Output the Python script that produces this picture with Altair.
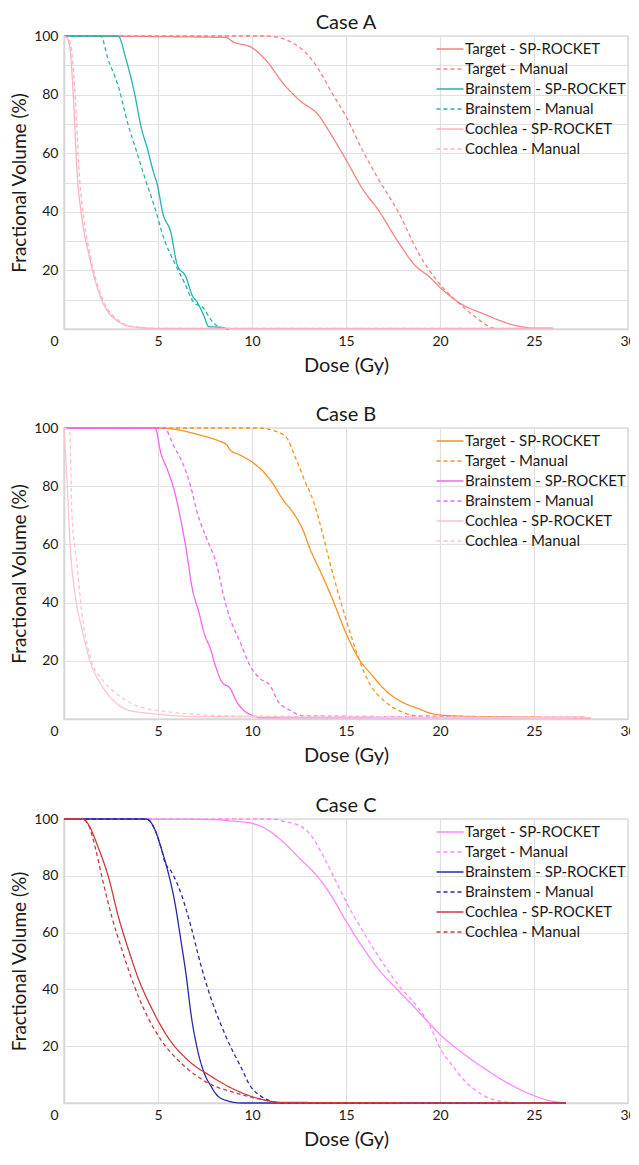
import altair as alt
import pandas as pd

series_names = ["Target - SP-ROCKET", "Target - Manual", "Brainstem - SP-ROCKET",
                "Brainstem - Manual", "Cochlea - SP-ROCKET", "Cochlea - Manual"]
x_ticks = [0, 5, 10, 15, 20, 25, 30]

# ---------------- Case A ----------------
a_target_sp_dose = [0, 8.6, 9.0, 10.0, 10.8, 11.65, 12.5, 13.6, 14.1, 15.0, 15.9, 16.7, 17.8, 18.7, 19.4, 20.1, 21.3, 22.35, 23.05, 24.1, 25.0, 26.0]
a_target_sp_vol = [100, 99.5, 98, 96, 91.3, 83.9, 78.2, 72.5, 67.5, 57.8, 47.6, 40.8, 29.5, 21.5, 18, 13.6, 7.9, 5.1, 3.2, 1.1, 0.3, 0.3]
a_target_man_dose = [0, 10.5, 11.1, 12.2, 13.05, 13.6, 14.26, 15.0, 15.86, 16.74, 17.8, 18.84, 20.07, 20.95, 21.8, 22.7, 23.05]
a_target_man_vol = [100, 100, 99.8, 97.5, 93, 88, 80.5, 72.6, 61.2, 51, 39.7, 26.1, 14.7, 9.1, 4.5, 0.6, 0]
a_brain_sp_dose = [0, 2.88, 3.3, 3.75, 4.1, 4.46, 4.72, 4.98, 5.25, 5.68, 6.04, 6.47, 6.83, 7.09, 7.44, 7.7, 8.3, 8.7]
a_brain_sp_vol = [100, 100, 92, 80.5, 69, 61, 54.4, 48.8, 39.7, 33, 21.5, 18, 11.3, 9.1, 4.5, 0.8, 0.6, 0]
a_brain_man_dose = [0, 1.95, 2.35, 2.88, 3.4, 3.84, 4.28, 4.8, 5.33, 5.86, 6.39, 6.91, 7.44, 7.79, 8.3, 8.75]
a_brain_man_vol = [100, 100, 92, 83, 70, 61, 52, 42, 30.6, 22.8, 16, 9, 7, 3.4, 0.5, 0]
a_coch_sp_dose = [0, 0.2, 0.33, 0.51, 0.68, 0.95, 1.3, 2.0, 2.7, 3.7, 5.0, 26.0]
a_coch_sp_vol = [100, 99, 95, 78, 55, 38, 26, 10, 3.4, 0.7, 0.2, 0.2]
a_coch_man_dose = [0, 0.25, 0.4, 0.61, 0.79, 1.05, 1.4, 2.0, 2.7, 3.7, 5.0, 26.0]
a_coch_man_vol = [100, 99, 95, 78, 55, 38, 25, 11, 4, 0.8, 0.2, 0.2]
colors_a = ["#F98080", "#F98080", "#22B5AD", "#22B5AD", "#FFB3C0", "#FFB3C0"]

# ---------------- Case B ----------------
b_target_sp_dose = [0, 5.0, 6.21, 7.26, 8.14, 8.67, 8.84, 9.37, 9.98, 10.6, 11.1, 11.65, 12.2, 12.7, 13.1, 13.58, 14.28, 14.98, 15.68, 16.39, 17.09, 17.96, 18.84, 19.54, 20.6, 22.35, 28.0]
b_target_sp_vol = [100, 100, 99.2, 97.5, 95.8, 94.1, 92.4, 90.7, 88.4, 85, 81, 75.3, 70.8, 65.1, 58.2, 51.5, 41.2, 29.8, 20.7, 15, 9.9, 5.9, 3.6, 1.9, 1.1, 0.8, 0.5]
b_target_man_dose = [0, 10.4, 11.1, 11.8, 12.3, 12.8, 13.3, 13.58, 14.1, 14.63, 15.16, 15.68, 16.21, 17.09, 17.96, 18.84, 28.0]
b_target_man_vol = [100, 100, 99.2, 97, 90, 82, 74.2, 68, 54.8, 42.3, 30.9, 20.7, 12.7, 5.9, 2.5, 1.1, 0.5]
b_brain_sp_dose = [0, 4.84, 5.16, 5.51, 5.86, 6.21, 6.47, 6.83, 7.18, 7.44, 7.79, 8.05, 8.4, 8.84, 9.19, 9.54, 10.07, 10.4, 28.0]
b_brain_sp_vol = [100, 100, 91.2, 85.5, 78.7, 68.5, 59.4, 44.6, 36.6, 29.8, 24.1, 18.4, 12.7, 10.5, 5.9, 3.1, 1.1, 0.5, 0.5]
b_brain_man_dose = [0, 5.33, 5.86, 6.39, 6.74, 7.09, 7.61, 8.14, 8.49, 8.84, 9.37, 9.89, 10.42, 10.95, 11.4, 12.0, 12.7, 28.0]
b_brain_man_vol = [100, 100, 93.5, 86.7, 79.9, 70.8, 61.7, 52.6, 42.3, 34.4, 26.4, 18.4, 13.9, 11.6, 5.9, 3.1, 1.1, 0.5]
b_coch_sp_dose = [0, 0.16, 0.33, 0.6, 0.95, 1.4, 2.0, 2.7, 3.4, 4.6, 7.3, 28.0]
b_coch_sp_vol = [100, 82, 59.4, 42.3, 31, 19.6, 11.6, 5.9, 3.1, 1.9, 0.8, 0.5]
b_coch_man_dose = [0, 0.3, 0.42, 0.68, 0.95, 1.47, 2.0, 2.88, 3.77, 5.5, 9.0, 28.0]
b_coch_man_vol = [100, 99, 70.8, 53.7, 36.6, 19.6, 13.9, 8.2, 4.8, 2.5, 1.1, 0.5]
colors_b = ["#F7931E", "#F7931E", "#F266F2", "#F266F2", "#FFC4CE", "#FFC4CE"]

# ---------------- Case C ----------------
c_target_sp_dose = [0, 8.0, 9.04, 9.92, 10.8, 11.68, 12.55, 13.58, 14.28, 14.98, 15.86, 16.74, 17.79, 18.84, 19.37, 20.07, 21.12, 22.35, 23.58, 24.8, 25.86, 26.7]
c_target_sp_vol = [100, 99.8, 99.2, 98.6, 96.3, 91.8, 86, 79, 72.3, 64.3, 55.1, 47, 39.5, 32.3, 28.5, 23.7, 18, 12.2, 7.1, 3.1, 0.8, 0]
c_target_man_dose = [0, 11.0, 11.68, 12.55, 13.25, 13.58, 14.28, 14.98, 15.86, 16.74, 17.79, 18.84, 19.37, 20.07, 20.63, 21.33, 22.2, 23.05, 24.1]
c_target_man_vol = [100, 100, 99.2, 97.6, 93.2, 89.5, 80.6, 71.2, 60.9, 51.5, 41.5, 33.5, 28.3, 18.5, 13.4, 7.7, 3.1, 0.8, 0]
c_brain_sp_dose = [0, 4.39, 4.83, 5.18, 5.53, 5.88, 6.24, 6.5, 6.76, 7.11, 7.46, 7.82, 8.17, 8.69, 9.4, 26.7]
c_brain_sp_vol = [100, 100, 96.3, 89.5, 81.5, 71.2, 56.3, 44.9, 31.1, 18.5, 10.5, 5.9, 2.5, 0.8, 0, 0]
c_brain_man_dose = [0, 4.39, 4.83, 5.18, 5.36, 5.71, 6.24, 6.76, 7.29, 7.82, 8.34, 8.87, 9.4, 9.92, 10.45, 10.97, 11.5, 24.0]
c_brain_man_vol = [100, 100, 96.3, 89.5, 84.9, 81.5, 73.5, 62, 48.3, 36.8, 27.7, 19.7, 12.8, 5.9, 2.5, 0.8, 0, 0]
c_coch_sp_dose = [0, 1.0, 1.24, 1.85, 2.38, 2.9, 3.43, 3.96, 4.66, 5.53, 6.59, 7.82, 9.05, 10.45, 11.7, 26.7]
c_coch_sp_vol = [100, 100, 98.6, 89.5, 79.2, 65.4, 54, 43.7, 33.4, 23.1, 15.1, 9.4, 4.8, 1.4, 0.2, 0]
c_coch_man_dose = [0, 1.0, 1.3, 1.68, 2.03, 2.55, 3.08, 3.6, 4.3, 5.18, 6.24, 7.64, 9.05, 10.8, 11.5, 26.0]
c_coch_man_vol = [100, 100, 98, 89.5, 79.2, 65.4, 54, 43.7, 32.3, 22, 14, 7.1, 3.7, 0.8, 0, 0]
colors_c = ["#FF88FF", "#FF88FF", "#2A2AA8", "#2A2AA8", "#CC3A40", "#CC3A40"]

dashes = [[1, 0], [4, 3], [1, 0], [4, 3], [1, 0], [4, 3]]

FONT = "Lato"


def build_df(curves):
    rows = []
    for name, (xs, ys) in zip(series_names, curves):
        for i, (x, y) in enumerate(zip(xs, ys)):
            rows.append({"dose": x, "volume": y, "series": name, "order": i})
    return pd.DataFrame(rows)


def panel(title, curves, colors, height, ystep, shift_zero):
    df = build_df(curves)
    legend = alt.Legend(title=None, orient="top-right", offset=2, padding=0,
                        symbolType="M-1.35,0H1.35", symbolSize=400, symbolStrokeWidth=1.5,
                        labelFontSize=15, labelLimit=0, labelFont=FONT, labelColor="#1a1a1a",
                        labelOffset=4, rowPadding=1)
    x_axis_kw = dict(values=x_ticks, title="Dose (Gy)", labelFlush=False)
    if shift_zero:
        x_axis_kw["labelOffset"] = {"condition": {"test": "datum.value == 0", "value": -10}, "value": 0}
    return alt.Chart(df, title=alt.Title(title, fontSize=20, font=FONT, fontWeight="normal",
                                          color="#1a1a1a", anchor="middle", offset=-4)).mark_line(
        interpolate="monotone", strokeWidth=1.3
    ).encode(
        x=alt.X("dose:Q", scale=alt.Scale(domain=[0, 30], nice=False), axis=alt.Axis(**x_axis_kw)),
        y=alt.Y("volume:Q", scale=alt.Scale(domain=[0, 100], nice=False),
                axis=alt.Axis(values=list(range(0, 101, ystep)), title="Fractional Volume (%)",
                              labelFlush=False,
                              labelExpr="datum.value % 20 == 0 && datum.value > 0 ? datum.label : ''")),
        color=alt.Color("series:N", scale=alt.Scale(domain=series_names, range=colors), legend=legend),
        strokeDash=alt.StrokeDash("series:N", scale=alt.Scale(domain=series_names, range=dashes), legend=legend),
        order="order:Q",
    ).properties(width=564, height=height)


def build(shift_zero):
    chart_a = panel("Case A", [(a_target_sp_dose, a_target_sp_vol), (a_target_man_dose, a_target_man_vol),
                               (a_brain_sp_dose, a_brain_sp_vol), (a_brain_man_dose, a_brain_man_vol),
                               (a_coch_sp_dose, a_coch_sp_vol), (a_coch_man_dose, a_coch_man_vol)],
                    colors_a, 293, 10, shift_zero)
    chart_b = panel("Case B", [(b_target_sp_dose, b_target_sp_vol), (b_target_man_dose, b_target_man_vol),
                               (b_brain_sp_dose, b_brain_sp_vol), (b_brain_man_dose, b_brain_man_vol),
                               (b_coch_sp_dose, b_coch_sp_vol), (b_coch_man_dose, b_coch_man_vol)],
                    colors_b, 291, 20, shift_zero)
    chart_c = panel("Case C", [(c_target_sp_dose, c_target_sp_vol), (c_target_man_dose, c_target_man_vol),
                               (c_brain_sp_dose, c_brain_sp_vol), (c_brain_man_dose, c_brain_man_vol),
                               (c_coch_sp_dose, c_coch_sp_vol), (c_coch_man_dose, c_coch_man_vol)],
                    colors_c, 284, 20, shift_zero)
    return alt.vconcat(
        chart_a,
        alt.vconcat(chart_b, chart_c, spacing=29).resolve_scale(color="independent", strokeDash="independent"),
        spacing=28,
    ).resolve_scale(color="independent", strokeDash="independent").properties(
        padding={"left": 1, "top": 4, "right": -7, "bottom": 0}
    ).configure_view(stroke="#dddddd", strokeWidth=1.5).configure_axis(
        labelFont=FONT, labelFontSize=14, labelColor="#1a1a1a", titleFont=FONT, titleFontSize=20,
        titleFontWeight="normal", titleColor="#1a1a1a", gridColor="#e0e0e0", gridWidth=1.2,
        domainColor="#d6d6d6", domainWidth=1.5, ticks=False, labelPadding=6, titlePadding=4,
    ).configure_axisX(labelPadding=5, titlePadding=7).configure_axisY(titleFontSize=19)


try:
    chart = build(True)
    chart.to_dict()
except Exception:
    chart = build(False)

chart.save("out.html", embed_options={"renderer": "svg", "actions": False})
